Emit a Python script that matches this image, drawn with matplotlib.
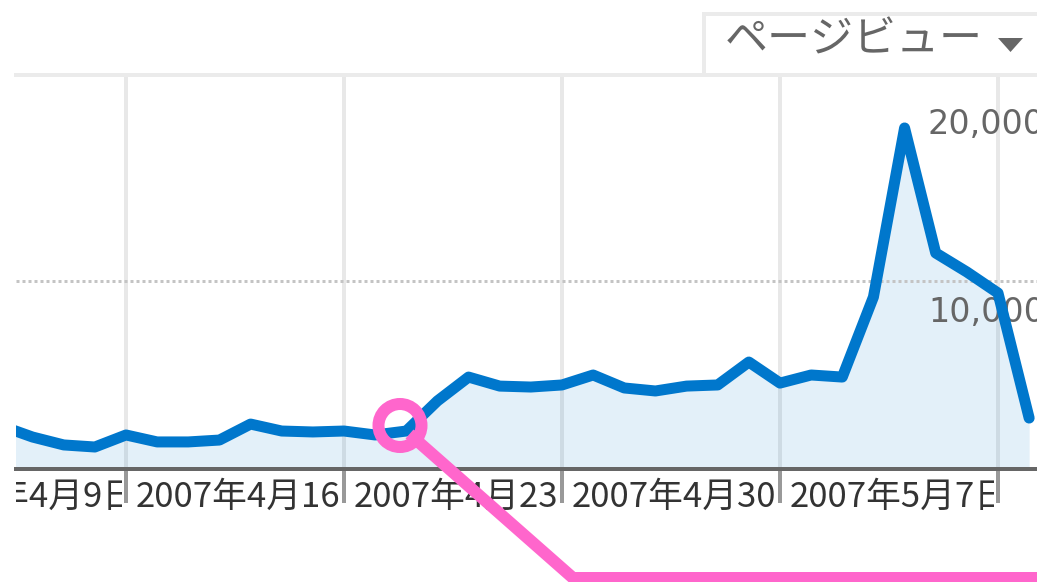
import numpy as np
import matplotlib
matplotlib.use('Agg')
import matplotlib.pyplot as plt
from matplotlib.transforms import Affine2D, Bbox, TransformedBbox, offset_copy
from matplotlib.patches import Rectangle, Circle, Polygon
from matplotlib.lines import Line2D

# daily page views, day 0 = 2007-04-16
days = np.arange(-4, 30)
pageviews = [2290, 1700, 1280, 1170, 1810, 1440, 1440, 1540, 2390, 2020,
             1970, 2020, 1810, 2020, 3620, 4890, 4410, 4360, 4470, 5000,
             4310, 4150, 4410, 4470, 5690, 4570, 5000, 4890, 9150, 18140,
             11490, 10480, 9360, 2710]

week_ticks = [-7, 0, 7, 14, 21, 28]
week_labels = ['2007年4月9日', '2007年4月16日', '2007年4月23日',
               '2007年4月30日', '2007年5月7日']
y_ticks = [10000, 20000]
y_labels = ['10,000', '20,000']
metric = 'ページビュー'

cjk = ['Noto Sans CJK JP', 'DejaVu Sans']
W, H = 1037, 582
PX = 72 / 100  # points per pixel at dpi 100

fig = plt.figure(figsize=(W / 100, H / 100), dpi=100)
# image pixel coords (origin top-left) -> display
pix = Affine2D().scale(1 / 100, -1 / 100).translate(0, H / 100) + fig.dpi_scale_trans

# plot area in pixels
left, right, top, base = 16, 1037, 75, 469
x0 = 126                      # pixel of day 0
ppd = (998 - 126) / 28        # pixels per day
ax = fig.add_axes([left / W, 1 - base / H, (right - left) / W, (base - top) / H])
ax.set_xlim((left - x0) / ppd, (right - x0) / ppd)
ax.set_ylim(0, (base - top) / 188 * 10000)

ax.fill_between(days, pageviews, color='#0077cc', alpha=0.11, lw=0, zorder=2)
ax.plot(days, pageviews, color='#0077cc', lw=11 * PX,
        solid_joinstyle='round', solid_capstyle='round', zorder=4)

for d in week_ticks[1:]:
    ax.axvline(d, color='#e8e8e8', lw=4 * PX, zorder=1)
ax.axhline(y_ticks[0], color='#c4c4c4', lw=3 * PX, ls=(0, (1, 1)), zorder=3)

for s in ['left', 'right']:
    ax.spines[s].set_visible(False)
ax.spines['top'].set_color('#ebebeb')
ax.spines['top'].set_linewidth(4 * PX)
ax.spines['bottom'].set_color('#666666')
ax.spines['bottom'].set_linewidth(4 * PX)
ax.spines['bottom'].set_zorder(5)

ax.set_yticks([])
ax.set_xticks(week_ticks[1:])
ax.tick_params(axis='x', direction='out', length=34 * PX, width=4 * PX,
               color='#999999', labelbottom=False)

# week labels, clipped between ticks
xmin, xmax = ax.get_xlim()
lab_tr = offset_copy(ax.transData, fig=fig, x=10 * PX, y=-28 * PX, units='points')
for i, lab in enumerate(week_labels):
    d = week_ticks[i]
    a = max(xmin, d + 4 / ppd)
    b = week_ticks[i + 1] - 4 / ppd
    t = ax.text(d, 0, lab, transform=lab_tr, ha='left', va='center',
                fontsize=25, color='#333333', family=cjk, clip_on=True)
    t.set_clip_box(TransformedBbox(Bbox([[a, -4000], [b, 0]]), ax.transData))

# value labels sit below their grid value
val_tr = offset_copy(ax.get_yaxis_transform(), fig=fig, y=-31 * PX, units='points')
for v, lab in zip(y_ticks, y_labels):
    ax.text((928 - left) / (right - left), v, lab, transform=val_tr,
            ha='left', va='center', fontsize=24, color='#666666',
            family='DejaVu Sans', clip_on=False)

# metric selector box
fig.add_artist(Rectangle((703.5, 13.5), 350, 61.5, transform=pix, fc='white',
                         ec='#ebebeb', lw=4 * PX, zorder=3))
fig.text(725 / W, 1 - 41 / H, metric, ha='left', va='center', fontsize=31,
         color='#666666', family=cjk, zorder=4)
fig.add_artist(Polygon([(998, 38), (1023, 38), (1010.5, 52)], closed=True,
                       transform=pix, fc='#666666', ec='none', zorder=4))

# pink magnifier callout
pink = '#ff66cc'
fig.add_artist(Circle((400, 425.5), 21.5, transform=pix, fill=False,
                      ec=pink, lw=12 * PX, zorder=6))
fig.add_artist(Line2D([414, 573, 1045], [438, 578, 578], transform=pix,
                      color=pink, lw=12 * PX, solid_joinstyle='miter', zorder=6))

fig.savefig('out.png', dpi=100)
